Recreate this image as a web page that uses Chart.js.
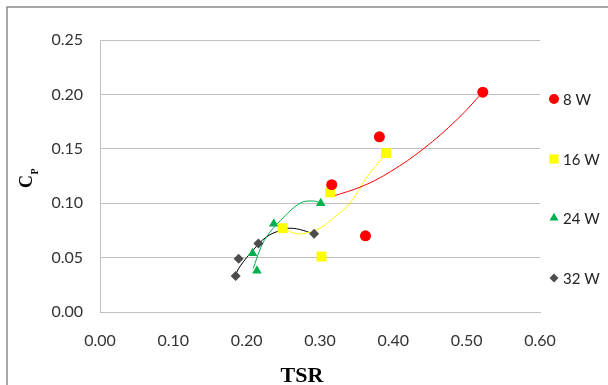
<!DOCTYPE html>
<html>
<head>
<meta charset="utf-8">
<script src="https://cdn.jsdelivr.net/npm/chart.js@4"></script>
<style>
  html, body { margin: 0; padding: 0; background: #fff; }
  #wrap { width: 608px; height: 385px; }
</style>
</head>
<body>
<div id="wrap"><canvas id="chart" width="608" height="385"></canvas></div>
<script>
// Измеренные точки (TSR, Cp) для каждой мощности
const tsr8  = [0.316, 0.362, 0.381, 0.522];
const cp8   = [0.117, 0.070, 0.161, 0.202];
const tsr16 = [0.249, 0.302, 0.314, 0.390];
const cp16  = [0.077, 0.051, 0.110, 0.146];
const tsr24 = [0.208, 0.214, 0.237, 0.301];
const cp24  = [0.054, 0.038, 0.081, 0.100];
const tsr32 = [0.185, 0.189, 0.216, 0.292];
const cp32  = [0.033, 0.049, 0.063, 0.072];

// Линии тренда
const trendX8  = [0.316, 0.359, 0.396, 0.441, 0.487, 0.522];
const trendY8  = [0.106, 0.116, 0.129, 0.150, 0.177, 0.202];
const trendX16 = [0.249, 0.268, 0.284, 0.300, 0.323, 0.341, 0.364, 0.390];
const trendY16 = [0.077, 0.072, 0.073, 0.077, 0.089, 0.100, 0.124, 0.146];
const trendX24 = [0.209, 0.218, 0.227, 0.246, 0.273, 0.291, 0.301];
const trendY24 = [0.040, 0.057, 0.069, 0.084, 0.100, 0.102, 0.100];
const trendX32 = [0.184, 0.191, 0.209, 0.227, 0.246, 0.259, 0.277, 0.293];
const trendY32 = [0.033, 0.042, 0.057, 0.069, 0.075, 0.077, 0.075, 0.071];

const seriesNames = ['8 W', '16 W', '24 W', '32 W'];
const xTicks = [0, 0.1, 0.2, 0.3, 0.4, 0.5, 0.6];
const yTicks = [0, 0.05, 0.1, 0.15, 0.2, 0.25];

const zip = (xs, ys) => xs.map((x, i) => ({ x: x, y: ys[i] }));

const styles = [
    { color: '#FF0000', point: 'circle',   r: 5.5, lr: 5 },
    { color: '#FFFF00', point: 'rect',     r: 7,   lr: 6.5 },
    { color: '#00B050', point: 'triangle', r: 5.5, lr: 5.2 },
    { color: '#4D4D4D', point: 'rectRot',  r: 5,   lr: 4.5 }
];
const pointSets = [zip(tsr8, cp8), zip(tsr16, cp16), zip(tsr24, cp24), zip(tsr32, cp32)];
const trendSets = [zip(trendX8, trendY8), zip(trendX16, trendY16), zip(trendX24, trendY24), zip(trendX32, trendY32)];
const trendColors = ['#FF0000', '#FFFF00', '#00B050', '#000000'];

const datasets = [];
pointSets.forEach((pts, i) => {
    datasets.push({
        label: seriesNames[i],
        data: pts,
        pointStyle: styles[i].point,
        pointRadius: styles[i].r,
        backgroundColor: styles[i].color,
        borderColor: styles[i].color,
        borderWidth: 0,
        showLine: false
    });
});
trendSets.forEach((pts, i) => {
    datasets.push({
        label: seriesNames[i] + ' trend',
        data: pts,
        showLine: true,
        pointRadius: 0,
        borderColor: trendColors[i],
        borderWidth: 1,
        tension: 0.4,
        fill: false
    });
});

// Рамка и фон
const framePlugin = {
    id: 'frame',
    beforeDraw: (chart) => {
        const c = chart.ctx;
        c.save();
        c.fillStyle = '#fff';
        c.fillRect(0, 0, chart.width, chart.height);
        c.strokeStyle = '#8a8a8a';
        c.lineWidth = 1.5;
        c.beginPath();
        c.moveTo(7, chart.height);
        c.lineTo(7, 7);
        c.lineTo(chart.width, 7);
        c.stroke();
        c.restore();
    }
};

// Подписи осей и легенда справа
const labelsPlugin = {
    id: 'labels',
    afterDraw: (chart) => {
        const c = chart.ctx;
        c.save();
        c.fillStyle = '#000';
        c.font = 'bold 22px "Liberation Serif"';
        c.textAlign = 'center';
        c.textBaseline = 'alphabetic';
        c.fillText('TSR', 302, 382);

        c.translate(32, 188);
        c.rotate(-Math.PI / 2);
        c.textAlign = 'left';
        c.font = 'bold 18px "Liberation Serif"';
        c.fillText('C', 0, 0);
        c.font = 'bold 10px "Liberation Serif"';
        c.fillText('P', 13.5, 6);
        c.restore();

        const legendY = [99, 159, 218, 278];
        c.save();
        seriesNames.forEach((name, i) => {
            c.fillStyle = styles[i].color;
            c.strokeStyle = styles[i].color;
            Chart.helpers.drawPoint(c, { pointStyle: styles[i].point, radius: styles[i].lr, rotation: 0, borderWidth: 0 }, 554, legendY[i]);
            c.fillStyle = '#222';
            c.font = '15px Lato';
            c.textAlign = 'left';
            c.textBaseline = 'middle';
            c.fillText(name, 563, legendY[i] + 1);
        });
        c.restore();
    }
};

new Chart(document.getElementById('chart'), {
    type: 'scatter',
    data: { datasets: datasets },
    options: {
        responsive: false,
        animation: false,
        layout: { padding: { top: 40, right: 68, left: 0, bottom: 0 } },
        scales: {
            x: {
                type: 'linear',
                min: 0, max: 0.6,
                afterBuildTicks: (s) => { s.ticks = xTicks.map(v => ({ value: v })); },
                afterFit: (s) => { s.height = 73; },
                ticks: {
                    padding: 19,
                    color: '#333',
                    font: { family: 'Lato', size: 16 },
                    maxRotation: 0,
                    callback: (v) => Number(v).toFixed(2)
                },
                grid: { display: false, drawTicks: false },
                border: { display: true, color: '#bfbfbf', width: 1 }
            },
            y: {
                type: 'linear',
                min: 0, max: 0.25,
                afterBuildTicks: (s) => { s.ticks = yTicks.map(v => ({ value: v })); },
                afterFit: (s) => { s.width = 100; },
                ticks: {
                    padding: 17,
                    color: '#333',
                    font: { family: 'Lato', size: 16 },
                    callback: (v) => Number(v).toFixed(2)
                },
                grid: { color: '#bfbfbf', lineWidth: 1, drawTicks: false },
                border: { display: true, color: '#bfbfbf', width: 1 }
            }
        },
        plugins: { legend: { display: false }, tooltip: { enabled: false } }
    },
    plugins: [framePlugin, labelsPlugin]
});
</script>
</body>
</html>
